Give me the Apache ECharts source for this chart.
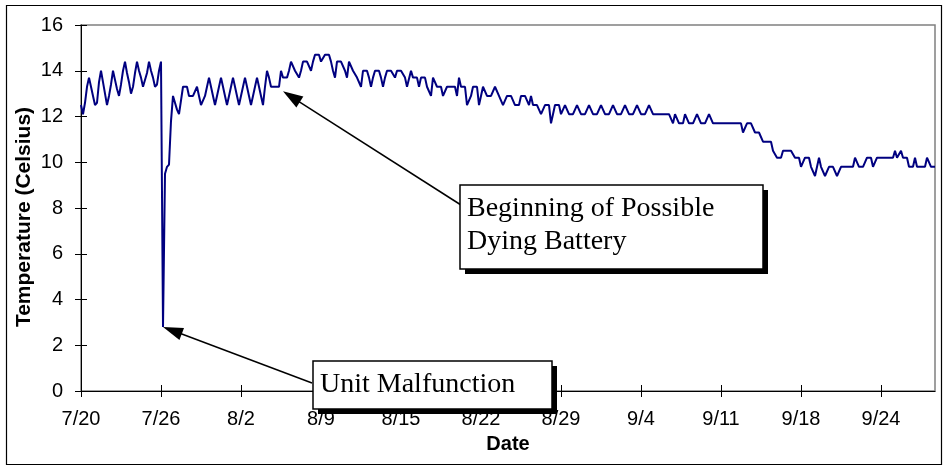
<!DOCTYPE html>
<html>
<head>
<meta charset="utf-8">
<title>Water temperature log</title>
<script src="https://cdn.jsdelivr.net/npm/echarts/dist/echarts.min.js"></script>
<style>
  html, body { margin: 0; padding: 0; background: #fff; }
  #chart { width: 947px; height: 468px; }
</style>
</head>
<body>
<div id="chart"></div>
<script>
// Date labels, one every 160 hours (40 four-hourly readings)
const tickLabels = ['7/20', '7/26', '8/2', '8/9', '8/15', '8/22', '8/29', '9/4', '9/11', '9/18', '9/24'];
const readingsPerTick = 40;

// Logger readings in °C, every 4 hours (00, 04, 08, 12, 16, 20 h), starting 7/20 00:00
const julyTemps = [
  12.5, 12.1, 12.6, 13.3, 13.7, 13.3,
  12.9, 12.5, 12.6, 13.5, 14.0, 13.5,
  13.0, 12.5, 12.9, 13.4, 14.0, 13.6,
  13.2, 12.9, 13.4, 14.0, 14.4, 13.9,
  13.5, 13.0, 13.3, 13.9, 14.4, 14.0,
  13.7, 13.3, 13.3, 13.9, 14.4, 14.0,
  13.7, 13.3, 13.4, 14.0, 14.4, 2.8,
  9.5, 9.8, 9.9, 11.8, 12.9, 12.9,
  12.3, 12.1, 12.1, 13.3, 13.3, 13.3,
  12.9, 12.9, 12.9, 12.9, 13.3, 12.9,
  12.5, 12.5, 12.9, 13.3, 13.7, 13.3,
  12.9, 12.5, 12.9, 13.3, 13.7, 13.3
];
const augustTemps = [
  12.9, 12.5, 12.9, 13.3, 13.7, 13.3,
  12.9, 12.5, 12.5, 13.3, 13.7, 13.3,
  12.9, 12.5, 12.9, 13.3, 13.7, 13.3,
  12.9, 12.5, 13.3, 14.0, 13.7, 13.3,
  13.3, 13.3, 13.3, 13.3, 14.0, 13.7,
  13.7, 13.7, 14.0, 14.4, 14.4, 14.0,
  14.0, 13.7, 14.0, 14.4, 14.4, 14.4,
  14.4, 14.0, 14.4, 14.7, 14.7, 14.7,
  14.4, 14.4, 14.7, 14.7, 14.7, 14.4,
  14.0, 13.7, 14.4, 14.4, 14.4, 14.4,
  14.0, 13.7, 14.4, 14.4, 14.0, 14.0,
  13.7, 13.7, 13.3, 14.0, 14.0, 14.0,
  13.7, 13.3, 13.7, 14.0, 14.0, 14.0,
  13.7, 13.3, 13.7, 14.0, 14.0, 14.0,
  14.0, 13.7, 14.0, 14.0, 14.0, 14.0,
  13.7, 13.3, 13.3, 14.0, 13.7, 13.7,
  13.7, 13.3, 13.7, 13.7, 13.7, 13.3,
  13.3, 12.9, 13.7, 13.7, 13.3, 13.3,
  13.3, 12.9, 12.9, 13.3, 13.3, 13.3,
  13.3, 13.3, 12.9, 13.7, 13.3, 13.3,
  13.3, 12.5, 12.5, 12.9, 13.3, 13.3,
  13.3, 12.5, 12.9, 13.3, 13.3, 12.9,
  12.9, 12.9, 12.9, 13.3, 13.3, 12.9,
  12.9, 12.5, 12.5, 12.9, 12.9, 12.9,
  12.9, 12.5, 12.5, 12.5, 12.9, 12.9,
  12.9, 12.9, 12.5, 12.9, 12.5, 12.5,
  12.5, 12.5, 12.1, 12.1, 12.5, 12.5,
  12.5, 11.7, 12.1, 12.5, 12.5, 12.5,
  12.1, 12.1, 12.5, 12.5, 12.1, 12.1,
  12.1, 12.1, 12.5, 12.5, 12.1, 12.1,
  12.1, 12.1, 12.5, 12.5, 12.1, 12.1
];
const septemberTemps = [
  12.1, 12.1, 12.5, 12.5, 12.1, 12.1,
  12.1, 12.1, 12.5, 12.5, 12.1, 12.1,
  12.1, 12.1, 12.5, 12.5, 12.1, 12.1,
  12.1, 12.1, 12.5, 12.5, 12.1, 12.1,
  12.1, 12.1, 12.5, 12.5, 12.1, 12.1,
  12.1, 12.1, 12.1, 12.1, 12.1, 12.1,
  12.1, 12.1, 11.7, 12.1, 12.1, 11.7,
  11.7, 11.7, 12.1, 12.1, 11.7, 11.7,
  11.7, 11.7, 12.1, 12.1, 11.7, 11.7,
  11.7, 11.7, 12.1, 12.1, 11.7, 11.7,
  11.7, 11.7, 11.7, 11.7, 11.7, 11.7,
  11.7, 11.7, 11.7, 11.7, 11.7, 11.7,
  11.7, 11.3, 11.3, 11.7, 11.7, 11.7,
  11.7, 11.3, 11.3, 11.3, 11.3, 10.9,
  10.9, 10.9, 10.9, 10.9, 10.5, 10.5,
  10.2, 10.2, 10.2, 10.5, 10.5, 10.5,
  10.5, 10.5, 10.5, 10.2, 10.2, 10.2,
  9.8, 9.8, 10.2, 10.2, 10.2, 9.8,
  9.8, 9.4, 9.4, 10.2, 9.8, 9.8,
  9.4, 9.4, 9.8, 9.8, 9.8, 9.8,
  9.4, 9.4, 9.8, 9.8, 9.8, 9.8,
  9.8, 9.8, 9.8, 10.2, 10.2, 9.8,
  9.8, 9.8, 9.8, 10.2, 10.2, 10.2,
  9.8, 9.8, 10.2, 10.2, 10.2, 10.2,
  10.2, 10.2, 10.2, 10.2, 10.2, 10.5,
  10.2, 10.2, 10.5, 10.2, 10.2, 10.2,
  9.8, 9.8, 9.8, 10.2, 9.8, 9.8,
  9.8, 9.8, 9.8, 10.2, 10.2, 9.8,
  9.8, 9.8
];

// Annotated readings: [reading index, °C]
const malfunctionPoint = [41, 2.8];
const batteryPoint = [101, 13.1];

const temps = julyTemps.concat(augustTemps, septemberTemps);
const readingIndex = temps.map((_, i) => String(i));

const axisFont = '"Liberation Sans", Arial, sans-serif';
const noteFont = '"Liberation Serif", "Times New Roman", serif';

const chart = echarts.init(document.getElementById('chart'), null, { renderer: 'canvas' });

chart.setOption({
  animation: false,
  backgroundColor: '#fff',
  grid: {
    left: 81, right: 12, top: 25, bottom: 77,
    show: true, borderColor: '#808080', borderWidth: 1.5, backgroundColor: 'transparent'
  },
  xAxis: [{
    type: 'category',
    data: readingIndex,
    boundaryGap: false,
    name: 'Date',
    nameLocation: 'middle',
    nameGap: 43,
    nameTextStyle: { fontFamily: axisFont, fontWeight: 'bold', fontSize: 20, color: '#000' },
    axisLine: { lineStyle: { color: '#000', width: 1 } },
    axisTick: { show: true, interval: readingsPerTick - 1, length: 6, lineStyle: { color: '#000' } },
    axisLabel: {
      interval: readingsPerTick - 1, margin: 18,
      fontFamily: axisFont, fontSize: 20, color: '#000',
      formatter: (v, i) => tickLabels[i / readingsPerTick] || ''
    },
    splitLine: { show: false }
  }, {
    // inner half of the crossing tick marks
    type: 'category',
    data: readingIndex,
    boundaryGap: false,
    position: 'bottom',
    axisLine: { show: false },
    axisTick: { show: true, inside: true, interval: readingsPerTick - 1, length: 6, lineStyle: { color: '#000' } },
    axisLabel: { show: false },
    splitLine: { show: false }
  }],
  yAxis: [{
    type: 'value',
    min: 0, max: 16, interval: 2,
    axisLine: { show: true, lineStyle: { color: '#000', width: 1 } },
    axisTick: { show: true, length: 6, lineStyle: { color: '#000' } },
    axisLabel: { margin: 18, fontFamily: axisFont, fontSize: 20, color: '#000' },
    splitLine: { show: false }
  }, {
    type: 'value',
    min: 0, max: 16, interval: 2,
    position: 'left',
    axisLine: { show: false },
    axisTick: { show: true, inside: true, length: 6, lineStyle: { color: '#000' } },
    axisLabel: { show: false },
    splitLine: { show: false }
  }],
  series: [{
    type: 'line',
    data: temps,
    xAxisIndex: 0,
    yAxisIndex: 0,
    showSymbol: false,
    lineStyle: { color: '#000080', width: 2 },
    z: 3
  }]
});

// Arrow from a callout box to a reading
function arrow(from, tip) {
  const dx = tip[0] - from[0], dy = tip[1] - from[1];
  const len = Math.hypot(dx, dy);
  const ux = dx / len, uy = dy / len;
  const headLen = 20, headHalf = 6.5;
  const base = [tip[0] - ux * headLen, tip[1] - uy * headLen];
  return [
    { type: 'line', shape: { x1: from[0], y1: from[1], x2: base[0] + ux * 2, y2: base[1] + uy * 2 },
      style: { stroke: '#000', lineWidth: 1.5 }, z: 10 },
    { type: 'polygon', shape: { points: [
        tip,
        [base[0] - uy * headHalf, base[1] + ux * headHalf],
        [base[0] + uy * headHalf, base[1] - ux * headHalf]
      ] }, style: { fill: '#000' }, z: 10 }
  ];
}

// Callout box with a solid drop shadow
function callout(x, y, w, h, lines, lineGap) {
  const items = [
    { type: 'rect', shape: { x: x + 5, y: y + 5, width: w, height: h }, style: { fill: '#000' }, z: 11 },
    { type: 'rect', shape: { x: x, y: y, width: w, height: h }, style: { fill: '#fff', stroke: '#000', lineWidth: 1.5 }, z: 12 }
  ];
  lines.forEach((t, k) => {
    items.push({
      type: 'text', z: 13,
      style: {
        text: t, x: x + 7, y: y + 24 + k * lineGap,
        font: '28px ' + noteFont, fill: '#000',
        align: 'left', verticalAlign: 'middle'
      }
    });
  });
  return items;
}

const malTip = chart.convertToPixel({ xAxisIndex: 0, yAxisIndex: 0 }, malfunctionPoint);
const batTip = chart.convertToPixel({ xAxisIndex: 0, yAxisIndex: 0 }, batteryPoint);

const graphics = []
  .concat(arrow([312, 383], malTip))
  .concat(arrow([461, 205], batTip))
  .concat(callout(313, 361, 239, 48, ['Unit Malfunction'], 0))
  .concat(callout(460, 185, 303, 84, ['Beginning of Possible', 'Dying Battery'], 33));

// Vertical axis title
graphics.push({
  type: 'text', z: 5,
  x: 24, y: 217, rotation: Math.PI / 2,
  style: {
    text: 'Temperature (Celsius)',
    font: 'bold 21px ' + axisFont, fill: '#000',
    align: 'center', verticalAlign: 'middle'
  }
});

graphics.push({
  type: 'rect', z: 0,
  shape: { x: 6.5, y: 5.5, width: 935, height: 459 },
  style: { fill: 'none', stroke: '#000', lineWidth: 1.2 }
});

chart.setOption({ graphic: graphics });
</script>
</body>
</html>
